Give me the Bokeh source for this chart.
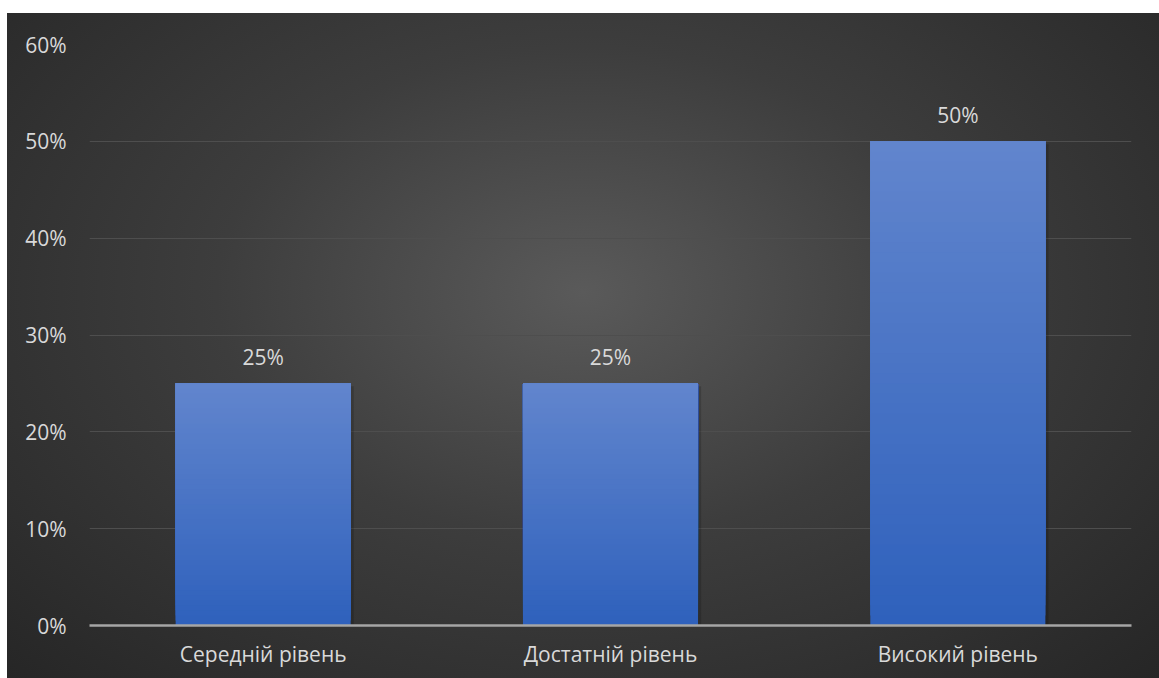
from bokeh.plotting import figure
from bokeh.models import ColumnDataSource, LabelSet, Range1d, FixedTicker, NumeralTickFormatter
from bokeh.transform import dodge
from bokeh.core.properties import value
from bokeh.embed import file_html
from bokeh.resources import INLINE

# ---- data ----
categories = ["Середній рівень", "Достатній рівень", "Високий рівень"]
values = [0.25, 0.25, 0.50]
value_labels = ["25%", "25%", "50%"]
y_ticks = [0.0, 0.1, 0.2, 0.3, 0.4, 0.5, 0.6]

# ---- style ----
FONT = "Open Sans"
FONT_SIZE = "21px"
TEXT_COLOR = "#d9d9d9"
TOP_RGB = (0x61, 0x85, 0xcd)
BOT_RGB = (0x2f, 0x61, 0xbc)
BAR_W = 0.504
N_SLICES = 48

p = figure(
    x_range=categories,
    y_range=Range1d(0, 0.6),
    width=1152, height=665,
    output_backend="svg",
    toolbar_location=None,
    min_border_left=82, min_border_right=28,
    min_border_top=31, min_border_bottom=53,
    border_fill_color=None,
    background_fill_color=None,
    outline_line_color=None,
    styles={
        "margin-left": "7px",
        "margin-top": "13px",
        "background": "radial-gradient(ellipse farthest-corner at 50% 42%, #5a5a5a 0%, #3d3d3d 45%, #262626 100%)",
    },
)
p.x_range.range_padding = 0

# subtle shadow
shadow_src = ColumnDataSource(dict(cat=categories, top=[v - 0.003 for v in values]))
p.vbar(x=dodge("cat", 0.009, range=p.x_range), top="top", bottom=-0.01, width=BAR_W,
       source=shadow_src, fill_color="black", fill_alpha=0.16, line_color=None)

# gradient bars built from values: each slice spans from its start up to the bar top,
# later (lighter) slices drawn over earlier ones -> no seams
xs, bottoms, tops, colors = [], [], [], []
for c, v in zip(categories, values):
    for i in range(N_SLICES):
        f = i / (N_SLICES - 1)
        r = round(BOT_RGB[0] + (TOP_RGB[0] - BOT_RGB[0]) * f)
        g = round(BOT_RGB[1] + (TOP_RGB[1] - BOT_RGB[1]) * f)
        b = round(BOT_RGB[2] + (TOP_RGB[2] - BOT_RGB[2]) * f)
        xs.append(c)
        bottoms.append(v * i / N_SLICES)
        tops.append(v)
        colors.append("#%02x%02x%02x" % (r, g, b))
bar_src = ColumnDataSource(dict(x=xs, bottom=bottoms, top=tops, color=colors))
p.vbar(x="x", bottom="bottom", top="top", width=BAR_W, source=bar_src,
       fill_color="color", line_color=None)

# data labels
lab_src = ColumnDataSource(dict(cat=categories, val=values, txt=value_labels))
p.add_layout(LabelSet(x="cat", y="val", text="txt", source=lab_src,
                      y_offset=18, text_align="center", text_baseline="alphabetic",
                      text_font=value(FONT), text_font_size=value(FONT_SIZE),
                      text_color=TEXT_COLOR))

# axes
p.yaxis.ticker = FixedTicker(ticks=y_ticks)
p.yaxis.formatter = NumeralTickFormatter(format="0%")
p.yaxis.axis_line_color = None
p.yaxis.major_tick_line_color = None
p.yaxis.minor_tick_line_color = None
p.yaxis.major_label_standoff = 17
p.yaxis.major_label_text_font = FONT
p.yaxis.major_label_text_font_size = FONT_SIZE
p.yaxis.major_label_text_color = TEXT_COLOR

p.xaxis.axis_line_color = "#a6a6a6"
p.xaxis.axis_line_width = 2.5
p.xaxis.major_tick_line_color = None
p.xaxis.minor_tick_line_color = None
p.xaxis.major_label_standoff = 8
p.xaxis.major_label_text_font = FONT
p.xaxis.major_label_text_font_size = FONT_SIZE
p.xaxis.major_label_text_color = TEXT_COLOR

p.xgrid.grid_line_color = None
p.ygrid.grid_line_color = "#4e4e4e"
p.ygrid.grid_line_width = 1.2

open("out.html", "w").write(file_html(p, INLINE))
